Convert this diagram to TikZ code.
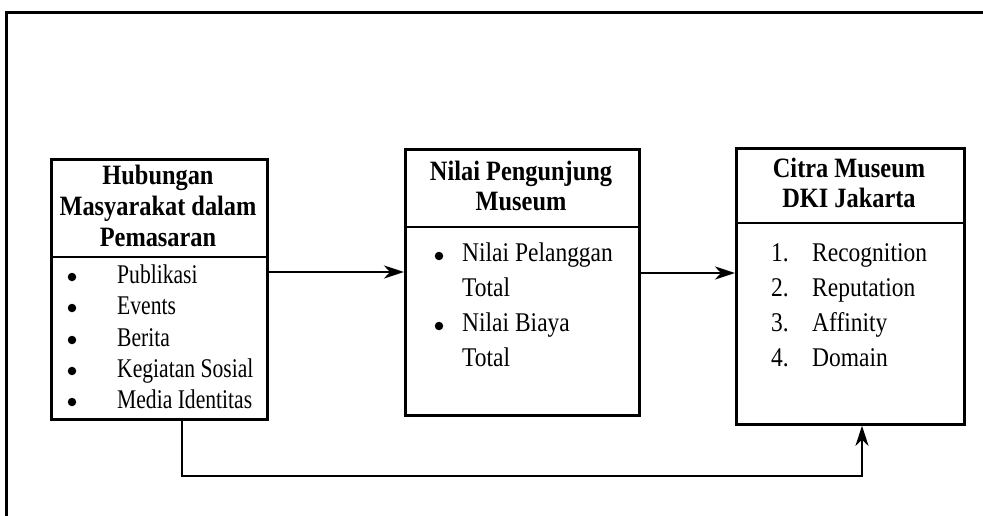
\documentclass[tikz,border=0pt]{standalone}
\usepackage{fontspec}
\setmainfont{Liberation Serif}
\usetikzlibrary{arrows.meta}
\newcommand{\hdtxt}[1]{\scalebox{0.87}[1]{#1}}
\newcommand{\ittxt}[1]{\scalebox{0.87}[1]{#1}}
\newcommand{\ittxtb}[1]{\scalebox{0.80}[1]{#1}}
\begin{document}
\begin{tikzpicture}[x=1pt,y=-1pt,
  box/.style={draw, line width=2.8pt, inner sep=0pt, anchor=north west},
  hd/.style={font=\fontsize{28}{30}\selectfont\bfseries, inner sep=0pt, text height=19pt, text depth=6pt},
  it/.style={font=\fontsize{27}{30}\selectfont, inner sep=0pt, anchor=west, text height=19pt, text depth=6pt},
  dot/.style={circle, fill, inner sep=0pt, minimum size=8.5pt},
  arr/.style={line width=2.8pt, -{Stealth[length=20pt,width=13pt,inset=6pt]}},
  ln/.style={line width=2.8pt}]
\useasboundingbox (0,0) rectangle (983,516);
\fill[white] (0,0) rectangle (983,516);
% outer frame
\coordinate (fa) at (6,516);
\coordinate (fb) at (6,13);
\coordinate (fc) at (983,13);
\draw[line width=3pt] (fa) -- (fb) -- (fc);

% box 1
\node[box, minimum width=216pt, minimum height=260pt] (b1) at (50,158) {};
\coordinate (d1) at (0,257);
\draw[ln] (b1.west |- d1) -- (b1.east |- d1);
\node[hd] (h11) at (158,178) {\hdtxt{Hubungan}};
\node[hd] (h12) at (158,209) {\hdtxt{Masyarakat dalam}};
\node[hd] (h13) at (158,240) {\hdtxt{Pemasaran}};
\foreach \y/\t [count=\i] in {277/Publikasi,308/Events,340/Berita,371/Kegiatan Sosial,402/Media Identitas}{
  \node[dot] (p\i) at (72,\y) {};
  \node[it] (q\i) at (117,\y) {\ittxtb{\t}};
}

% box 2
\node[box, minimum width=234pt, minimum height=266pt] (b2) at (404,148) {};
\coordinate (d2) at (0,227);
\draw[ln] (b2.west |- d2) -- (b2.east |- d2);
\node[hd] (h21) at (521,174) {\hdtxt{Nilai Pengunjung}};
\node[hd] (h22) at (521,204) {\hdtxt{Museum}};
\node[dot] (r1) at (439,256) {};
\node[dot] (r2) at (439,326) {};
\node[it] (s1) at (462,255) {\ittxt{Nilai Pelanggan}};
\node[it] (s2) at (462,290) {\ittxt{Total}};
\node[it] (s3) at (462,325) {\ittxt{Nilai Biaya}};
\node[it] (s4) at (462,360) {\ittxt{Total}};

% box 3
\node[box, minimum width=228pt, minimum height=276pt] (b3) at (735,147) {};
\coordinate (d3) at (0,223);
\draw[ln] (b3.west |- d3) -- (b3.east |- d3);
\node[hd] (h31) at (849,171) {\hdtxt{Citra Museum}};
\node[hd] (h32) at (849,201) {\hdtxt{DKI Jakarta}};
\foreach \y/\n/\t [count=\i] in {255/1./Recognition,290/2./Reputation,325/3./Affinity,360/4./Domain}{
  \node[it] (n\i) at (771,\y) {\ittxt{\n}};
  \node[it] (t\i) at (812,\y) {\ittxt{\t}};
}

% connectors
\coordinate (y1) at (0,272);
\coordinate (y2) at (0,273);
\draw[arr] (b1.east |- y1) -- (b2.west |- y1);
\draw[arr] (b2.east |- y2) -- (b3.west |- y2);
\coordinate (bx1) at (182,0);
\coordinate (bx2) at (862,0);
\coordinate (by) at (0,476);
\draw[arr] (b1.south -| bx1) -- (bx1 |- by) -- (bx2 |- by) -- (b3.south -| bx2);
\end{tikzpicture}
\end{document}
